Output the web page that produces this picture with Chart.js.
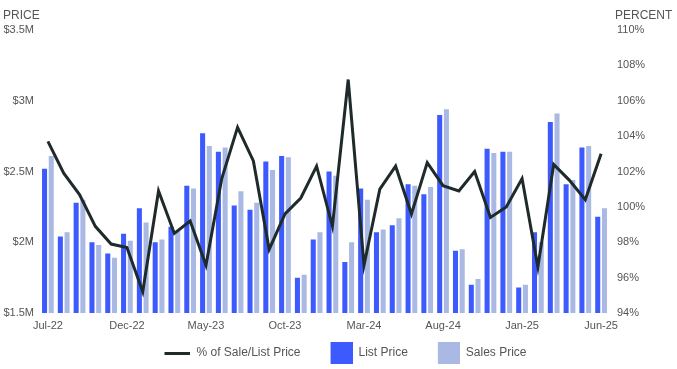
<!DOCTYPE html>
<html>
<head>
<meta charset="utf-8">
<script src="https://cdn.jsdelivr.net/npm/chart.js@4/dist/chart.umd.min.js"></script>
<style>
  html, body { margin: 0; padding: 0; background: #fff; }
  #wrap { width: 677px; height: 369px; }
</style>
</head>
<body>
<div id="wrap"><canvas id="priceChart" width="677" height="369"></canvas></div>
<script>
const months = ['Jul-22', 'Aug-22', 'Sep-22', 'Oct-22', 'Nov-22', 'Dec-22', 'Jan-23', 'Feb-23', 'Mar-23', 'Apr-23', 'May-23', 'Jun-23',
  'Jul-23', 'Aug-23', 'Sep-23', 'Oct-23', 'Nov-23', 'Dec-23', 'Jan-24', 'Feb-24', 'Mar-24', 'Apr-24', 'May-24', 'Jun-24',
  'Jul-24', 'Aug-24', 'Sep-24', 'Oct-24', 'Nov-24', 'Dec-24', 'Jan-25', 'Feb-25', 'Mar-25', 'Apr-25', 'May-25', 'Jun-25'];
// prices in $M
const listPrice = [2.52, 2.04, 2.28, 2.00, 1.92, 2.06, 2.24, 2.00, 2.11, 2.40, 2.77, 2.64,
  2.26, 2.23, 2.57, 2.61, 1.75, 2.02, 2.50, 1.86, 2.38, 2.07, 2.12, 2.41,
  2.34, 2.90, 1.94, 1.70, 2.66, 2.64, 1.68, 2.07, 2.85, 2.41, 2.67, 2.18];
const salesPrice = [2.61, 2.07, 2.30, 1.98, 1.89, 2.01, 2.14, 2.02, 2.08, 2.38, 2.68, 2.67,
  2.36, 2.28, 2.51, 2.60, 1.77, 2.07, 2.47, 2.00, 2.30, 2.09, 2.17, 2.40,
  2.39, 2.94, 1.95, 1.74, 2.63, 2.64, 1.70, 2.00, 2.91, 2.44, 2.68, 2.24];
const salePct = [103.7, 101.9, 100.7, 98.9, 97.9, 97.7, 95.2, 100.9, 98.5, 99.2, 96.7, 101.6,
  104.5, 102.6, 97.6, 99.6, 100.5, 102.3, 98.9, 107.2, 96.7, 101.0, 102.3, 99.6,
  102.5, 101.2, 100.9, 102.0, 99.4, 100.0, 101.6, 96.6, 102.4, 101.5, 100.4, 103.0];

const colors = { list: '#3d5afe', sales: '#a9b9e3', line: '#1f2a2a', text: '#555' };
const fontFamily = '"Liberation Sans", Arial, sans-serif';

// legend swatch: drawn right-aligned in a wider transparent canvas so the gap before it is wider
const SW = 40;
function swatch(w, h, color) {
  const c = document.createElement('canvas');
  c.width = SW; c.height = h;
  const g = c.getContext('2d');
  g.fillStyle = color;
  g.fillRect(SW - w, 0, w, h);
  return c;
}
const swatches = [swatch(26, 3, colors.line), swatch(22, 22, colors.list), swatch(22, 22, colors.sales)];

const axisTitles = {
  id: 'axisTitles',
  afterDraw(chart) {
    const ctx = chart.ctx;
    ctx.save();
    ctx.font = '12px ' + fontFamily;
    ctx.fillStyle = colors.text;
    ctx.textBaseline = 'alphabetic';
    ctx.textAlign = 'left';
    ctx.fillText('PRICE', 3, 19);
    ctx.fillText('PERCENT', 615, 19);
    ctx.restore();
  }
};

new Chart(document.getElementById('priceChart'), {
  data: {
    labels: months,
    datasets: [{
      type: 'line',
      label: '% of Sale/List Price',
      data: salePct,
      yAxisID: 'yPct',
      borderColor: colors.line,
      backgroundColor: colors.line,
      borderWidth: 3,
      pointRadius: 0,
      tension: 0,
      order: 0
    }, {
      type: 'bar',
      label: 'List Price',
      data: listPrice,
      yAxisID: 'yPrice',
      backgroundColor: colors.list,
      categoryPercentage: 0.85,
      barPercentage: 0.75,
      order: 1
    }, {
      type: 'bar',
      label: 'Sales Price',
      data: salesPrice,
      yAxisID: 'yPrice',
      backgroundColor: colors.sales,
      categoryPercentage: 0.85,
      barPercentage: 0.75,
      order: 2
    }]
  },
  options: {
    responsive: false,
    animation: false,
    layout: { padding: { top: 30, bottom: 0, left: 0, right: 0 } },
    plugins: {
      tooltip: { enabled: false },
      legend: {
        position: 'bottom',
        labels: {
          usePointStyle: true,
          pointStyleWidth: SW,
          padding: 12,
          color: colors.text,
          font: { family: fontFamily, size: 12 },
          generateLabels(chart) {
            const items = Chart.defaults.plugins.legend.labels.generateLabels(chart);
            items.forEach(item => { item.pointStyle = swatches[item.datasetIndex]; });
            return items;
          }
        }
      }
    },
    scales: {
      x: {
        grid: { display: false, drawTicks: false },
        border: { display: false },
        ticks: {
          autoSkip: false,
          maxRotation: 0,
          padding: 6,
          color: colors.text,
          font: { family: fontFamily, size: 11 },
          callback: (v, i) => i % 5 === 0 ? months[i] : ''
        },
        afterFit: s => { s.height = 22; }
      },
      yPrice: {
        position: 'left',
        min: 1.5,
        max: 3.5,
        grid: { display: false, drawTicks: false },
        border: { display: false },
        ticks: {
          stepSize: 0.5,
          padding: 6,
          color: colors.text,
          font: { family: fontFamily, size: 11 },
          callback: v => '$' + v + 'M'
        },
        afterFit: s => { s.width = 40; }
      },
      yPct: {
        position: 'right',
        min: 94,
        max: 110,
        grid: { display: false, drawTicks: false },
        border: { display: false },
        ticks: {
          stepSize: 2,
          padding: 8,
          color: colors.text,
          font: { family: fontFamily, size: 11 },
          callback: v => v + '%'
        },
        afterFit: s => { s.width = 68; }
      }
    }
  },
  plugins: [axisTitles]
});
</script>
</body>
</html>
